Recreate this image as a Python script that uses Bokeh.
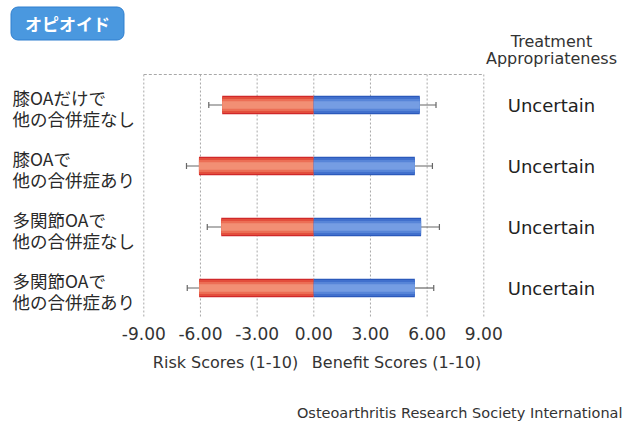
from bokeh.plotting import figure
from bokeh.models import Range1d, Label
from bokeh.core.properties import value
from bokeh.embed import file_html
from bokeh.resources import INLINE

# ---- data ----
categories = [
    "膝OAだけで\n他の合併症なし",
    "膝OAで\n他の合併症あり",
    "多関節OAで\n他の合併症なし",
    "多関節OAで\n他の合併症あり",
]
risk = [-4.85, -6.08, -4.90, -6.07]
risk_err = [-5.56, -6.74, -5.64, -6.70]
benefit = [5.61, 5.35, 5.68, 5.35]
benefit_err = [6.47, 6.28, 6.65, 6.35]
appropriateness = ["Uncertain", "Uncertain", "Uncertain", "Uncertain"]
x_ticks = [-9, -6, -3, 0, 3, 6, 9]
tick_labels = ["-9.00", "-6.00", "-3.00", "0.00", "3.00", "6.00", "9.00"]
badge_title = "オピオイド"
header = ["Treatment", "Appropriateness"]
risk_axis_label = "Risk Scores (1-10)"
benefit_axis_label = "Benefit Scores (1-10)"
source_note = "Osteoarthritis Research Society International"

JP = "Noto Sans CJK JP"
LAT = "DejaVu Sans"

# ---- layout (pixels) ----
W, H = 633, 422
FL, FR, FT, FB = 143.3, 483.3, 74.0, 318.0   # plotting area in pixels
n = len(categories)
xmin, xmax = x_ticks[0], x_ticks[-1]
ppx = (FR - FL) / (xmax - xmin)
ppy = (FB - FT) / n
ylo, yhi = -0.5, n - 0.5


def X(px):
    return xmin + (px - FL) / ppx


def Y(py):
    return ylo + (py - FT) / ppy


rows = list(range(n))

p = figure(width=W, height=H, output_backend="svg", toolbar_location=None, title=None,
           x_range=Range1d(X(0), X(W)), y_range=Range1d(Y(H), Y(0)),
           min_border=0)
p.outline_line_color = None
p.axis.visible = False
p.grid.visible = False
p.background_fill_color = "white"
p.border_fill_color = "white"

# grid: vertical dotted lines at ticks, dashed top line
p.segment(x0=x_ticks, x1=x_ticks, y0=[ylo] * len(x_ticks), y1=[yhi] * len(x_ticks),
          line_color="#a8a8a8", line_dash="2 2", line_width=1)
p.segment(x0=[xmin], x1=[xmax], y0=[ylo], y1=[ylo], line_color="#a8a8a8",
          line_dash="3 2", line_width=1)

# tick labels
p.text(x=x_ticks, y=[Y(333)] * len(x_ticks), text=tick_labels,
       text_font=value(LAT), text_font_size="17px", text_color="#333333",
       text_align="center", text_baseline="middle")

# whiskers (under bars)
cap = 0.05
wc = "#666666"
p.segment(x0=risk, y0=rows, x1=risk_err, y1=rows, line_color=wc, line_width=1.2)
p.segment(x0=risk_err, x1=risk_err, y0=[r - cap for r in rows], y1=[r + cap for r in rows],
          line_color=wc, line_width=1.2)
p.segment(x0=benefit, y0=rows, x1=benefit_err, y1=rows, line_color=wc, line_width=1.2)
p.segment(x0=benefit_err, x1=benefit_err, y0=[r - cap for r in rows], y1=[r + cap for r in rows],
          line_color=wc, line_width=1.2)

# bars with faux vertical gradient
red_layers = [(0.30, "#d0282a"), (0.265, "#e34e3c"), (0.20, "#ec6e55"), (0.12, "#f28f74")]
blue_layers = [(0.30, "#2b59bb"), (0.265, "#4170cd"), (0.20, "#5785d8"), (0.12, "#759de3")]
for h, c in red_layers:
    p.hbar(y=rows, left=risk, right=0, height=h, fill_color=c, line_color=None)
for h, c in blue_layers:
    p.hbar(y=rows, left=0, right=benefit, height=h, fill_color=c, line_color=None)

# category labels (left, two lines each)
for r, cat in zip(rows, categories):
    lines = cat.split("\n")
    for k, line in enumerate(lines):
        p.add_layout(Label(x=X(12), y=r + (3 + (k - 0.5) * 21.5) / ppy, text=line,
                           text_font=JP, text_font_size="17.5px", text_color="#2a2a2a",
                           text_align="left", text_baseline="middle"))

# appropriateness labels (right)
for r, t in zip(rows, appropriateness):
    p.add_layout(Label(x=X(551), y=r, text=t, text_font=LAT, text_font_size="18px",
                       text_color="#222222", text_align="center", text_baseline="middle"))

p.add_layout(Label(x=X(551), y=Y(41), text=header[0], text_font=LAT,
                   text_font_size="16px", text_color="#333333", text_align="center",
                   text_baseline="middle"))
p.add_layout(Label(x=X(551), y=Y(58), text=header[1], text_font=LAT,
                   text_font_size="16px", text_color="#333333", text_align="center",
                   text_baseline="middle"))

# axis captions
p.add_layout(Label(x=X(225), y=Y(362), text=risk_axis_label, text_font=LAT,
                   text_font_size="16px", text_color="#333333", text_align="center",
                   text_baseline="middle"))
p.add_layout(Label(x=X(396), y=Y(362), text=benefit_axis_label, text_font=LAT,
                   text_font_size="16px", text_color="#333333", text_align="center",
                   text_baseline="middle"))

# source
p.add_layout(Label(x=X(622), y=Y(412), text=source_note, text_font=LAT,
                   text_font_size="14.5px", text_color="#333333", text_align="right",
                   text_baseline="middle"))

# badge
p.add_layout(Label(x=X(67), y=Y(23), text=badge_title, text_font=JP,
                   text_font_size="17px", text_font_style="bold", text_color="white",
                   text_align="center", text_baseline="middle",
                   background_fill_color="#4a98df", border_line_color="#2f7fcf",
                   border_line_width=1, padding=(14, 4), border_radius=7))

open("out.html", "w").write(file_html(p, INLINE))
